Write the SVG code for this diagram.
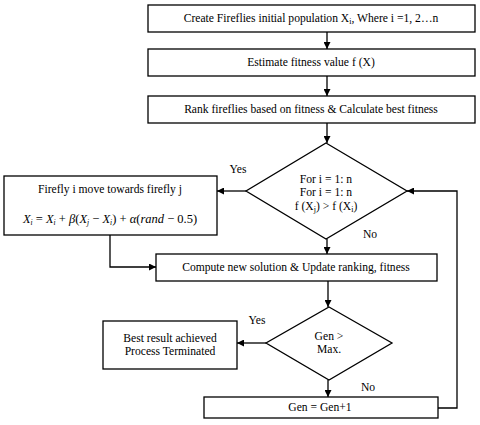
<svg xmlns="http://www.w3.org/2000/svg" width="480" height="425" viewBox="0 0 480 425">
<style>
.box{fill:#fff;stroke:#000;stroke-width:1.3}
.t{font-family:"Liberation Serif","Times New Roman",serif;font-size:11.6px;fill:#000;text-anchor:middle}
.ln{fill:none;stroke:#000;stroke-width:1.3}
.f{font-family:"Liberation Serif","Times New Roman",serif;font-size:12.5px;font-style:italic;fill:#000}
</style>
<defs>
<marker id="ah" viewBox="0 0 10 10" refX="10" refY="5" markerWidth="7" markerHeight="7" markerUnits="userSpaceOnUse" orient="auto">
<path d="M0,0 L10,5 L0,10 z" fill="#000"/>
</marker>
</defs>
<rect width="480" height="425" fill="#fff"/>
<g id="connectors">
<line class="ln" x1="327" y1="32" x2="327" y2="49" marker-end="url(#ah)"/>
<line class="ln" x1="327" y1="76" x2="327" y2="96" marker-end="url(#ah)"/>
<line class="ln" x1="327" y1="123" x2="327" y2="143" marker-end="url(#ah)"/>
<line class="ln" x1="246" y1="191" x2="217" y2="191" marker-end="url(#ah)"/>
<line class="ln" x1="327" y1="239" x2="327" y2="254" marker-end="url(#ah)"/>
<polyline class="ln" points="110,235 110,267 156,267" marker-end="url(#ah)"/>
<line class="ln" x1="328" y1="281" x2="328" y2="307" marker-end="url(#ah)"/>
<line class="ln" x1="266" y1="343" x2="237" y2="343" marker-end="url(#ah)"/>
<line class="ln" x1="328" y1="380" x2="328" y2="397" marker-end="url(#ah)"/>
<polyline class="ln" points="438,408 457,408 457,191 407,191" marker-end="url(#ah)"/>
<text class="t" x="238" y="173">Yes</text>
<text class="t" x="370" y="238">No</text>
<text class="t" x="257" y="324">Yes</text>
<text class="t" x="368" y="391">No</text>
</g>
<g id="n1">
<rect class="box" x="148" y="5" width="327" height="27"/>
<text class="t" x="311" y="22">Create Fireflies initial population X<tspan font-size="8" dy="2">i</tspan><tspan dy="-2">, Where i =1, 2…n</tspan></text>
</g>
<g id="n2">
<rect class="box" x="148" y="49" width="327" height="27"/>
<text class="t" x="311" y="66">Estimate fitness value f (X)</text>
</g>
<g id="n3">
<rect class="box" x="148" y="96" width="327" height="27"/>
<text class="t" x="311" y="113">Rank fireflies based on fitness &amp; Calculate best fitness</text>
</g>
<g id="n4">
<polygon class="box" points="326,143 407,191 326,239 246,191"/>
<text class="t" x="326" y="183">For i = 1: n</text>
<text class="t" x="326" y="196">For i = 1: n</text>
<text class="t" x="326" y="210">f (X<tspan font-size="8" dy="2">j</tspan><tspan dy="-2">) &gt; f (X</tspan><tspan font-size="8" dy="2">i</tspan><tspan dy="-2">)</tspan></text>
</g>
<g id="n5">
<rect class="box" x="4" y="176" width="213" height="59"/>
<text class="t" x="110" y="193">Firefly i move towards firefly j</text>
<text class="f" x="110" y="223" text-anchor="middle">X<tspan font-size="7.5" dy="2">i</tspan><tspan dy="-2" font-style="normal"> = </tspan>X<tspan font-size="7.5" dy="2">i</tspan><tspan dy="-2" font-style="normal"> + </tspan>β<tspan font-style="normal">(</tspan>X<tspan font-size="7.5" dy="2">j</tspan><tspan dy="-2" font-style="normal"> − </tspan>X<tspan font-size="7.5" dy="2">i</tspan><tspan dy="-2" font-style="normal">) + </tspan>α<tspan font-style="normal">(</tspan>rand<tspan font-style="normal"> − 0.5)</tspan></text>
</g>
<g id="n6">
<rect class="box" x="156" y="254" width="281" height="27"/>
<text class="t" x="296" y="271">Compute new solution &amp; Update ranking, fitness</text>
</g>
<g id="n7">
<polygon class="box" points="329,307 392,343 329,380 266,343"/>
<text class="t" x="329" y="340">Gen &gt;</text>
<text class="t" x="329" y="353">Max.</text>
</g>
<g id="n8">
<rect class="box" x="103" y="321" width="134" height="48"/>
<text class="t" x="170" y="342">Best result  achieved</text>
<text class="t" x="170" y="355">Process  Terminated</text>
</g>
<g id="n9">
<rect class="box" x="204" y="397" width="234" height="21"/>
<text class="t" x="320" y="411">Gen = Gen+1</text>
</g>
</svg>
